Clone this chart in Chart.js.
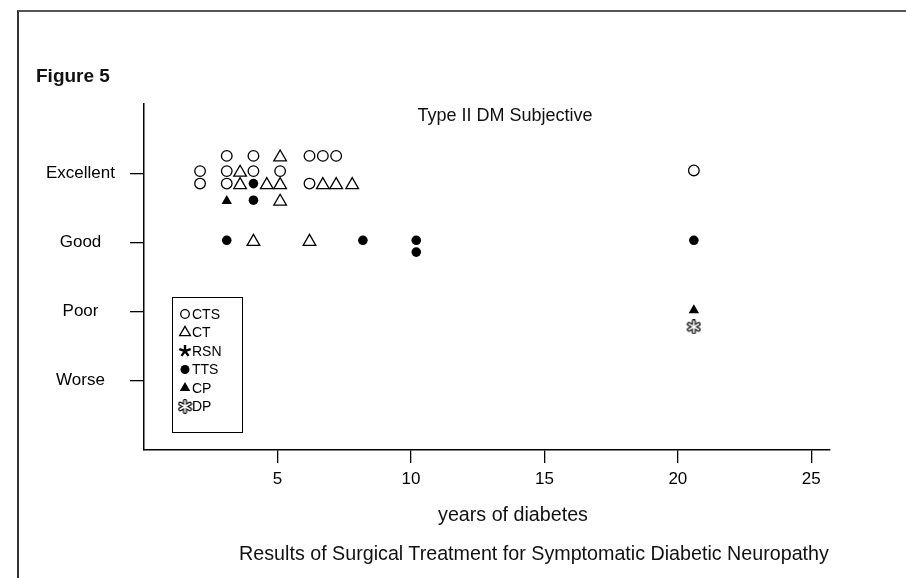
<!DOCTYPE html>
<html>
<head>
<meta charset="utf-8">
<script src="https://cdn.jsdelivr.net/npm/chart.js@4.4.1/dist/chart.umd.min.js"></script>
<style>
  body { margin: 0; background: #fff; }
  #page { position: relative; width: 906px; height: 578px; overflow: hidden; font-family: "Liberation Sans", Arial, sans-serif; color: #111; }
  #frame { position: absolute; left: 17px; top: 10px; width: 1000px; height: 1000px; border-left: 2px solid #333; border-top: 2px solid #555; }
  #chart { position: absolute; left: 0; top: 0; }
  .txt { position: absolute; white-space: nowrap; line-height: 22px; }
  .mid { transform: translateX(-50%); }
</style>
</head>
<body>
<div id="page">
  <div id="frame"></div>
  <canvas id="chart" width="906" height="578"></canvas>
  <div class="txt" style="left:36px; top:65px; font-size:19px; font-weight:bold;">Figure 5</div>
  <div class="txt mid" style="left:505px; top:104px; font-size:18px;">Type II DM Subjective</div>
  <div class="txt mid" style="left:513px; top:503px; font-size:19.7px;">years of diabetes</div>
  <div class="txt mid" style="left:534px; top:542px; font-size:19.7px;">Results of Surgical Treatment for Symptomatic Diabetic Neuropathy</div>
</div>
<script>
const fontFamily = '"Liberation Sans", Arial, sans-serif';

// outcome categories (value 1..4) and x ticks
const scoreLabels = ['', 'Worse', 'Poor', 'Good', 'Excellent'];
const scoreTicks = [1, 2, 3, 4];
const yearTicks = [5, 10, 15, 20, 25];

// years of diabetes / outcome score, per procedure (scores jittered around the category)
const ctsYears = [3.1, 4.1, 6.2, 6.7, 7.2, 2.1, 3.1, 4.1, 5.1, 2.1, 3.1, 6.2, 20.6];
const ctsScores = [4.25, 4.25, 4.25, 4.25, 4.25, 4.03, 4.03, 4.03, 4.03, 3.85, 3.85, 3.85, 4.04];
const ctYears = [5.1, 3.6, 3.6, 4.6, 5.1, 6.7, 7.2, 7.8, 5.1, 4.1, 6.2];
const ctScores = [4.23, 4.01, 3.83, 3.83, 3.83, 3.83, 3.83, 3.83, 3.59, 3.01, 3.01];
const rsnYears = [];
const rsnScores = [];
const ttsYears = [4.1, 4.1, 3.1, 8.2, 10.2, 10.2, 20.6];
const ttsScores = [3.85, 3.61, 3.03, 3.03, 3.03, 2.86, 3.03];
const cpYears = [3.1, 20.6];
const cpScores = [3.6, 2.02];
const dpYears = [20.6];
const dpScores = [1.78];

function toPoints(xs, ys) {
    return xs.map((x, i) => ({ x: x, y: ys[i] }));
}

function makeStar() {
    const c = document.createElement('canvas');
    c.width = 14; c.height = 14;
    const g = c.getContext('2d');
    g.strokeStyle = '#000';
    g.lineWidth = 2.4;
    for (let k = 0; k < 5; k++) {
        const a = -Math.PI / 2 + k * 2 * Math.PI / 5;
        g.beginPath();
        g.moveTo(7, 7);
        g.lineTo(7 + Math.cos(a) * 6, 7 + Math.sin(a) * 6);
        g.stroke();
    }
    return c;
}

function makeHollowStar() {
    const c = document.createElement('canvas');
    c.width = 15; c.height = 15;
    const g = c.getContext('2d');
    const m = 7.5, r = 5.5;
    const arms = [Math.PI / 2, Math.PI / 6, 5 * Math.PI / 6];
    g.lineCap = 'round';
    [['#000', 4.2], ['#fff', 1.8]].forEach(([col, w]) => {
        g.strokeStyle = col;
        g.lineWidth = w;
        arms.forEach(a => {
            g.beginPath();
            g.moveTo(m - Math.cos(a) * r, m - Math.sin(a) * r);
            g.lineTo(m + Math.cos(a) * r, m + Math.sin(a) * r);
            g.stroke();
        });
    });
    return c;
}

const datasets = [
    { label: 'CTS', data: toPoints(ctsYears, ctsScores), pointStyle: 'circle', pointRadius: 5.3, legendRadius: 4.3, backgroundColor: '#fff', borderColor: '#000', borderWidth: 1.3 },
    { label: 'CT', data: toPoints(ctYears, ctScores), pointStyle: 'triangle', pointRadius: 7.3, legendRadius: 6.2, backgroundColor: '#fff', borderColor: '#000', borderWidth: 1.3 },
    { label: 'RSN', data: toPoints(rsnYears, rsnScores), pointStyle: makeStar(), pointRadius: 6, legendRadius: 6, backgroundColor: '#000', borderColor: '#000', borderWidth: 0 },
    { label: 'TTS', data: toPoints(ttsYears, ttsScores), pointStyle: 'circle', pointRadius: 4.8, legendRadius: 4.5, backgroundColor: '#000', borderColor: '#000', borderWidth: 0 },
    { label: 'CP', data: toPoints(cpYears, cpScores), pointStyle: 'triangle', pointRadius: 6, legendRadius: 6, backgroundColor: '#000', borderColor: '#000', borderWidth: 0 },
    { label: 'DP', data: toPoints(dpYears, dpScores), pointStyle: makeHollowStar(), pointRadius: 6, legendRadius: 6, backgroundColor: '#fff', borderColor: '#000', borderWidth: 0 },
];

// boxed legend inside the plot, bottom left
const boxLegend = {
    id: 'boxLegend',
    afterDraw(chart) {
        const ctx = chart.ctx;
        const left = 172, top = 297, w = 70, h = 135;
        ctx.save();
        ctx.strokeStyle = '#000';
        ctx.lineWidth = 1;
        ctx.strokeRect(left + 0.5, top + 0.5, w, h);
        ctx.font = '14px ' + fontFamily;
        ctx.textBaseline = 'middle';
        chart.data.datasets.forEach((ds, i) => {
            const y = top + 17 + i * 18.5;
            ctx.fillStyle = ds.backgroundColor;
            ctx.strokeStyle = ds.borderColor;
            ctx.lineWidth = ds.borderWidth;
            Chart.helpers.drawPoint(ctx, { pointStyle: ds.pointStyle, radius: ds.legendRadius, rotation: 0, borderWidth: ds.borderWidth }, left + 13, y);
            ctx.fillStyle = '#000';
            ctx.fillText(ds.label, left + 20, y + 1);
        });
        ctx.restore();
    }
};

new Chart(document.getElementById('chart'), {
    type: 'scatter',
    data: { datasets: datasets },
    options: {
        responsive: false,
        animation: false,
        devicePixelRatio: 1,
        layout: { padding: { left: 20, top: 104, right: 76, bottom: 88 } },
        plugins: {
            legend: { display: false },
            tooltip: { enabled: false }
        },
        scales: {
            x: {
                type: 'linear',
                min: 0,
                max: 25.7,
                afterBuildTicks: axis => { axis.ticks = yearTicks.map(v => ({ value: v })); },
                afterFit: axis => { axis.height = 40; },
                grid: { drawOnChartArea: false, color: '#000', lineWidth: 1.3, tickLength: 13 },
                border: { color: '#000', width: 1.5 },
                ticks: { color: '#000', font: { family: fontFamily, size: 17 }, padding: 6, maxRotation: 0, autoSkip: false }
            },
            y: {
                min: 0,
                max: 5,
                afterBuildTicks: axis => { axis.ticks = scoreTicks.map(v => ({ value: v })); },
                afterFit: axis => { axis.width = 124; },
                grid: { drawOnChartArea: false, color: '#000', lineWidth: 1.3, tickLength: 14 },
                border: { color: '#000', width: 1.5 },
                ticks: {
                    color: '#000',
                    font: { family: fontFamily, size: 17 },
                    crossAlign: 'center',
                    padding: 15,
                    autoSkip: false,
                    callback: v => scoreLabels[v]
                }
            }
        }
    },
    plugins: [boxLegend]
});
</script>
</body>
</html>
